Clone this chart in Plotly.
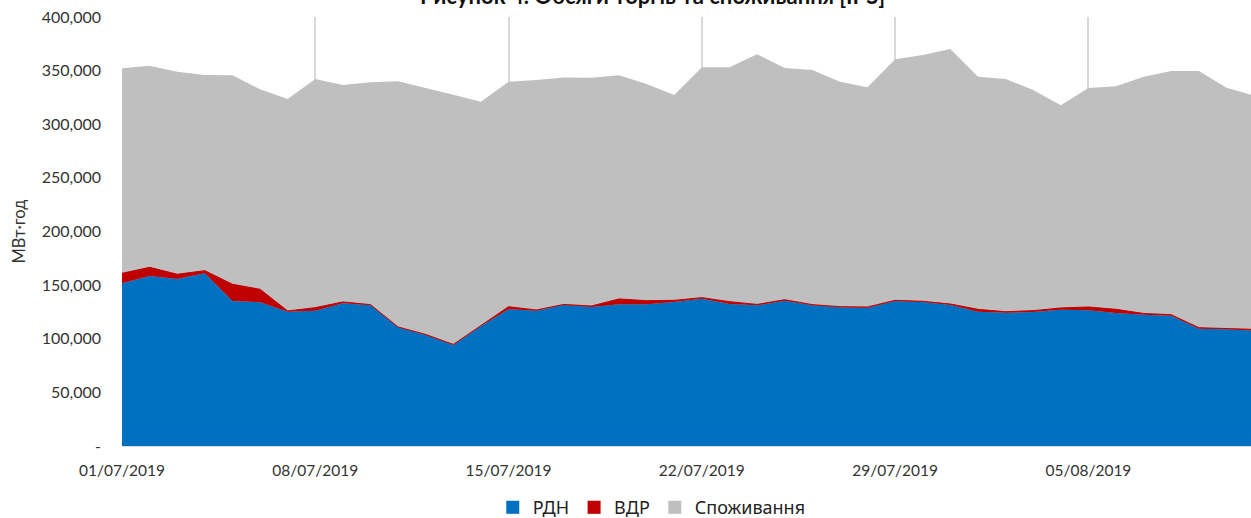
import plotly.graph_objects as go

dates = [
    "2019-07-01", "2019-07-02", "2019-07-03", "2019-07-04", "2019-07-05", "2019-07-06", "2019-07-07",
    "2019-07-08", "2019-07-09", "2019-07-10", "2019-07-11", "2019-07-12", "2019-07-13", "2019-07-14",
    "2019-07-15", "2019-07-16", "2019-07-17", "2019-07-18", "2019-07-19", "2019-07-20", "2019-07-21",
    "2019-07-22", "2019-07-23", "2019-07-24", "2019-07-25", "2019-07-26", "2019-07-27", "2019-07-28",
    "2019-07-29", "2019-07-30", "2019-07-31", "2019-08-01", "2019-08-02", "2019-08-03", "2019-08-04",
    "2019-08-05", "2019-08-06", "2019-08-07", "2019-08-08", "2019-08-09", "2019-08-10", "2019-08-11",
]

rdn = [151700, 158500, 155700, 161000, 135200, 134000, 125200, 126200, 133000, 131200, 110700, 103500,
       94200, 112000, 127400, 126200, 131500, 129600, 132100, 132100, 134300, 137300, 132400, 131200,
       135500, 131200, 129300, 129000, 135200, 134300, 131500, 125200, 124300, 124900, 127100, 126500,
       124000, 122400, 121500, 109400, 108800, 107500]

vdr = [9300, 8100, 4400, 2500, 15600, 12100, 700, 2800, 1300, 600, 300, 500,
       500, 500, 2500, 600, 500, 900, 5000, 3400, 1500, 1000, 2200, 800,
       900, 600, 600, 600, 600, 600, 900, 2200, 900, 1300, 1600, 3100,
       3400, 1200, 900, 900, 900, 1200]

consumption = [352100, 354600, 349000, 345900, 345600, 332600, 323500, 342200, 336600, 339100, 340000, 334000,
               327500, 321000, 339600, 341200, 343700, 343400, 345600, 337500, 327300, 353100, 353100, 365200,
               352500, 350600, 339700, 334400, 360500, 364600, 370200, 344300, 342200, 332000, 317700, 333800,
               335400, 344300, 349600, 349600, 334100, 326700]

y_tickvals = [0, 50000, 100000, 150000, 200000, 250000, 300000, 350000, 400000]
y_ticktext = ["-", "50,000", "100,000", "150,000", "200,000", "250,000", "300,000", "350,000", "400,000"]

series_names = ["РДН", "ВДР", "Споживання"]
colors = ["#0070C0", "#C00000", "#BFBFBF"]

title_text = "Рисунок 4. Обсяги торгів та споживання [IPS]"
y_title = "МВт·год"

fig = go.Figure()

fig.add_trace(go.Scatter(x=dates, y=consumption, name=series_names[2], mode="lines",
                         fill="tozeroy", fillcolor=colors[2], line=dict(width=0, color=colors[2]),
                         showlegend=False))
fig.add_trace(go.Scatter(x=dates, y=rdn, name=series_names[0], mode="lines", stackgroup="trade",
                         fillcolor=colors[0], line=dict(width=0, color=colors[0]), showlegend=False))
fig.add_trace(go.Scatter(x=dates, y=vdr, name=series_names[1], mode="lines", stackgroup="trade",
                         fillcolor=colors[1], line=dict(width=1, color=colors[1]), showlegend=False))

# legend entries with square swatches
for name, col in zip(series_names, colors):
    fig.add_trace(go.Scatter(x=[None], y=[None], name=name, mode="markers",
                             marker=dict(symbol="square", size=13, color=col)))

fig.update_layout(
    width=1251, height=518,
    margin=dict(l=122, r=0, t=17, b=72, autoexpand=False),
    paper_bgcolor="white", plot_bgcolor="white",
    font=dict(family="Lato", size=15, color="#333333"),
    showlegend=True,
    legend=dict(orientation="h", xref="container", yref="container", x=0.521, y=0.02,
                xanchor="center", yanchor="middle", traceorder="normal",
                font=dict(family="Noto Sans", size=18, color="#222222"),
                itemwidth=30, tracegroupgap=0),
    xaxis=dict(
        type="date", range=["2019-07-01", "2019-08-10 21:20"],
        tick0="2019-07-01", dtick=7 * 86400000, tickformat="%d/%m/%Y",
        showgrid=True, gridcolor="#D9D9D9", gridwidth=1.5,
        showline=True, linecolor="#D9D9D9", linewidth=1,
        ticks="", ticklabelstandoff=10, zeroline=False, automargin=False,
        tickfont=dict(family="Lato", size=15.5, color="#333333"),
    ),
    yaxis=dict(
        range=[0, 400000], tickvals=y_tickvals, ticktext=y_ticktext,
        showgrid=False, zeroline=False, showline=False, ticks="",
        ticklabelstandoff=20, automargin=False,
        tickfont=dict(family="Lato", size=16, color="#333333"),
    ),
    annotations=[
        dict(text=title_text, xref="paper", yref="paper", x=0.4695, y=1.05,
             xanchor="center", yanchor="middle", showarrow=False,
             font=dict(family="Lato", size=22, color="#111111", weight="bold")),
        dict(text=y_title, xref="paper", yref="paper", x=-0.0921, y=0.5,
             xanchor="center", yanchor="middle", showarrow=False, textangle=-90,
             font=dict(family="Lato", size=16.5, color="#333333")),
    ],
)

fig.write_html("out.html", config={"displayModeBar": False},
               post_script="document.body.style.margin='0';document.body.style.overflow='hidden';")
